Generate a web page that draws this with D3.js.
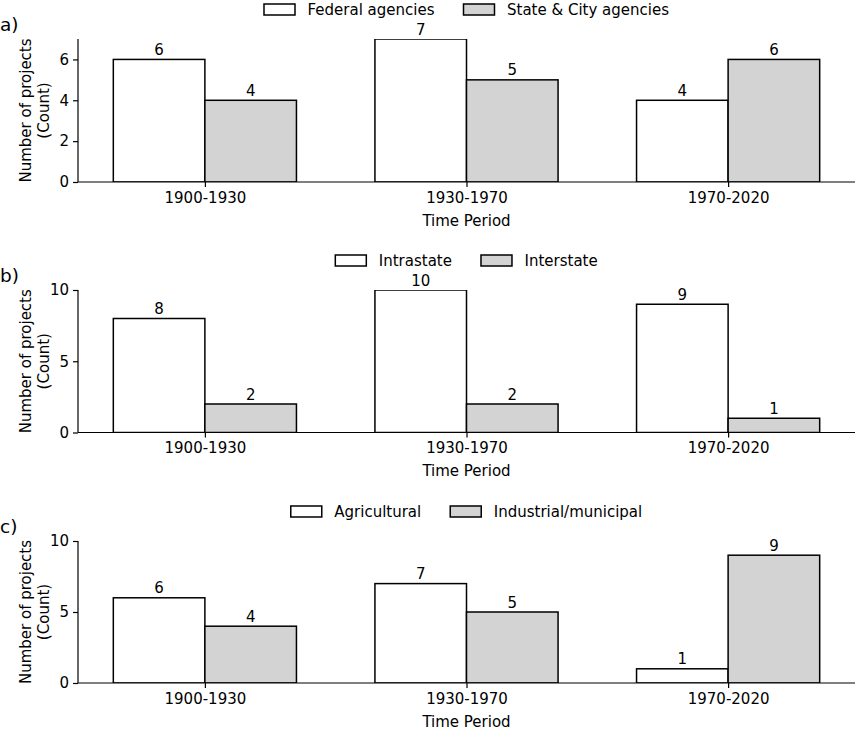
<!DOCTYPE html>
<html>
<head>
<meta charset="utf-8">
<script src="https://cdn.jsdelivr.net/npm/d3@7"></script>
<style>
  html, body { margin: 0; padding: 0; background: #fff; }
  svg { display: block; font-family: "DejaVu Sans", sans-serif; }
</style>
</head>
<body>
<svg id="chart" width="858" height="729"></svg>
<script>
// ---- data ----
const periods = ["1900-1930", "1930-1970", "1970-2020"];
const panelLabels = ["a)", "b)", "c)"];
const seriesNamesA = ["Federal agencies", "State & City agencies"];
const seriesNamesB = ["Intrastate", "Interstate"];
const seriesNamesC = ["Agricultural", "Industrial/municipal"];
const federal = [6, 7, 4];
const stateCity = [4, 5, 6];
const intrastate = [8, 10, 9];
const interstate = [2, 2, 1];
const agricultural = [6, 7, 1];
const industrial = [4, 5, 9];
const yMaxA = 7, yMaxB = 10, yMaxC = 10;
const yTicksA = [0, 2, 4, 6];
const yTicksB = [0, 5, 10];
const yTicksC = [0, 5, 10];
const yLabelLines = ["Number of projects", "(Count)"];
const xLabel = "Time Period";

const panels = [
  { label: panelLabels[0], names: seriesNamesA, values: [federal, stateCity], yMax: yMaxA, ticks: yTicksA, top: 39, bottom: 182 },
  { label: panelLabels[1], names: seriesNamesB, values: [intrastate, interstate], yMax: yMaxB, ticks: yTicksB, top: 290, bottom: 432.5 },
  { label: panelLabels[2], names: seriesNamesC, values: [agricultural, industrial], yMax: yMaxC, ticks: yTicksC, top: 541, bottom: 683 }
];

const fills = ["#ffffff", "#d3d3d3"];
const left = 78, right = 855;
const barW = 0.35;
const fs = 15;
const legendFs = 15;

const svg = d3.select("#chart");
const x = d3.scaleLinear().domain([-0.485, 2.485]).range([left, right]);
const defs = svg.append("defs");

panels.forEach((p, pi) => {
  const y = d3.scaleLinear().domain([0, p.yMax]).range([p.bottom, p.top]);
  const g = svg.append("g");

  defs.append("clipPath").attr("id", "clip" + pi)
    .append("rect").attr("x", left).attr("y", p.top)
    .attr("width", right - left).attr("height", p.bottom - p.top);

  // bars
  const barsG = g.append("g").attr("clip-path", `url(#clip${pi})`);
  p.values.forEach((vals, si) => {
    const off = si === 0 ? -barW : 0;
    barsG.selectAll(null).data(vals).enter().append("rect")
      .attr("x", (d, i) => x(i + off))
      .attr("y", d => y(d))
      .attr("width", x(barW) - x(0))
      .attr("height", d => y(0) - y(d))
      .attr("fill", fills[si])
      .attr("stroke", "#000")
      .attr("stroke-width", 1.5);
    // bar labels
    g.selectAll(null).data(vals).enter().append("text")
      .attr("x", (d, i) => x(i + off + barW / 2))
      .attr("y", d => y(d) - 4.5)
      .attr("text-anchor", "middle")
      .attr("font-size", fs)
      .attr("fill", "#000")
      .text(d => d);
  });

  // y axis
  const yAxis = d3.axisLeft(y).tickValues(p.ticks).tickSize(5).tickPadding(4).tickFormat(d3.format("d"));
  const ya = g.append("g").attr("transform", `translate(${left},0)`).call(yAxis);
  // x axis
  const xAxis = d3.axisBottom(x).tickValues([0, 1, 2]).tickSize(5).tickPadding(5).tickFormat(i => periods[i]);
  const xa = g.append("g").attr("transform", `translate(0,${p.bottom})`).call(xAxis);
  [ya, xa].forEach(a => {
    a.select(".domain").attr("stroke", "#000").attr("stroke-width", 1.2);
    a.selectAll(".tick line").attr("stroke", "#000").attr("stroke-width", 1.2);
    a.selectAll(".tick text").attr("font-size", fs).attr("font-family", "DejaVu Sans").attr("fill", "#000");
  });
  ya.select(".domain").attr("d", `M0,${p.bottom}V${p.top}`);
  xa.select(".domain").attr("d", `M${left},0H${right}`);

  // x label
  g.append("text").attr("x", (left + right) / 2).attr("y", p.bottom + 43.5)
    .attr("text-anchor", "middle").attr("font-size", fs).text(xLabel);

  // y label (two lines)
  const cy = (p.top + p.bottom) / 2;
  yLabelLines.forEach((t, li) => {
    g.append("text")
      .attr("transform", `translate(${31 + li * 18},${cy}) rotate(-90)`)
      .attr("text-anchor", "middle").attr("font-size", fs).text(t);
  });

  // panel label
  g.append("text").attr("x", 0).attr("y", p.top - 8)
    .attr("font-size", 18.5).text(p.label);

  // legend
  const lg = g.append("g");
  const ly = p.top - 29.5;
  let cx = 0;
  p.names.forEach((n, si) => {
    lg.append("rect").attr("x", cx).attr("y", ly - 5.5).attr("width", 31).attr("height", 11)
      .attr("fill", fills[si]).attr("stroke", "#000").attr("stroke-width", 1.5);
    const t = lg.append("text").attr("x", cx + 43.5).attr("y", ly + 5.5).attr("font-size", legendFs).text(n);
    const w = t.node().getComputedTextLength();
    cx = cx + 43.5 + w + 29;
  });
  const total = cx - 29;
  lg.attr("transform", `translate(${(left + right) / 2 - total / 2},0)`);
});
</script>
</body>
</html>
